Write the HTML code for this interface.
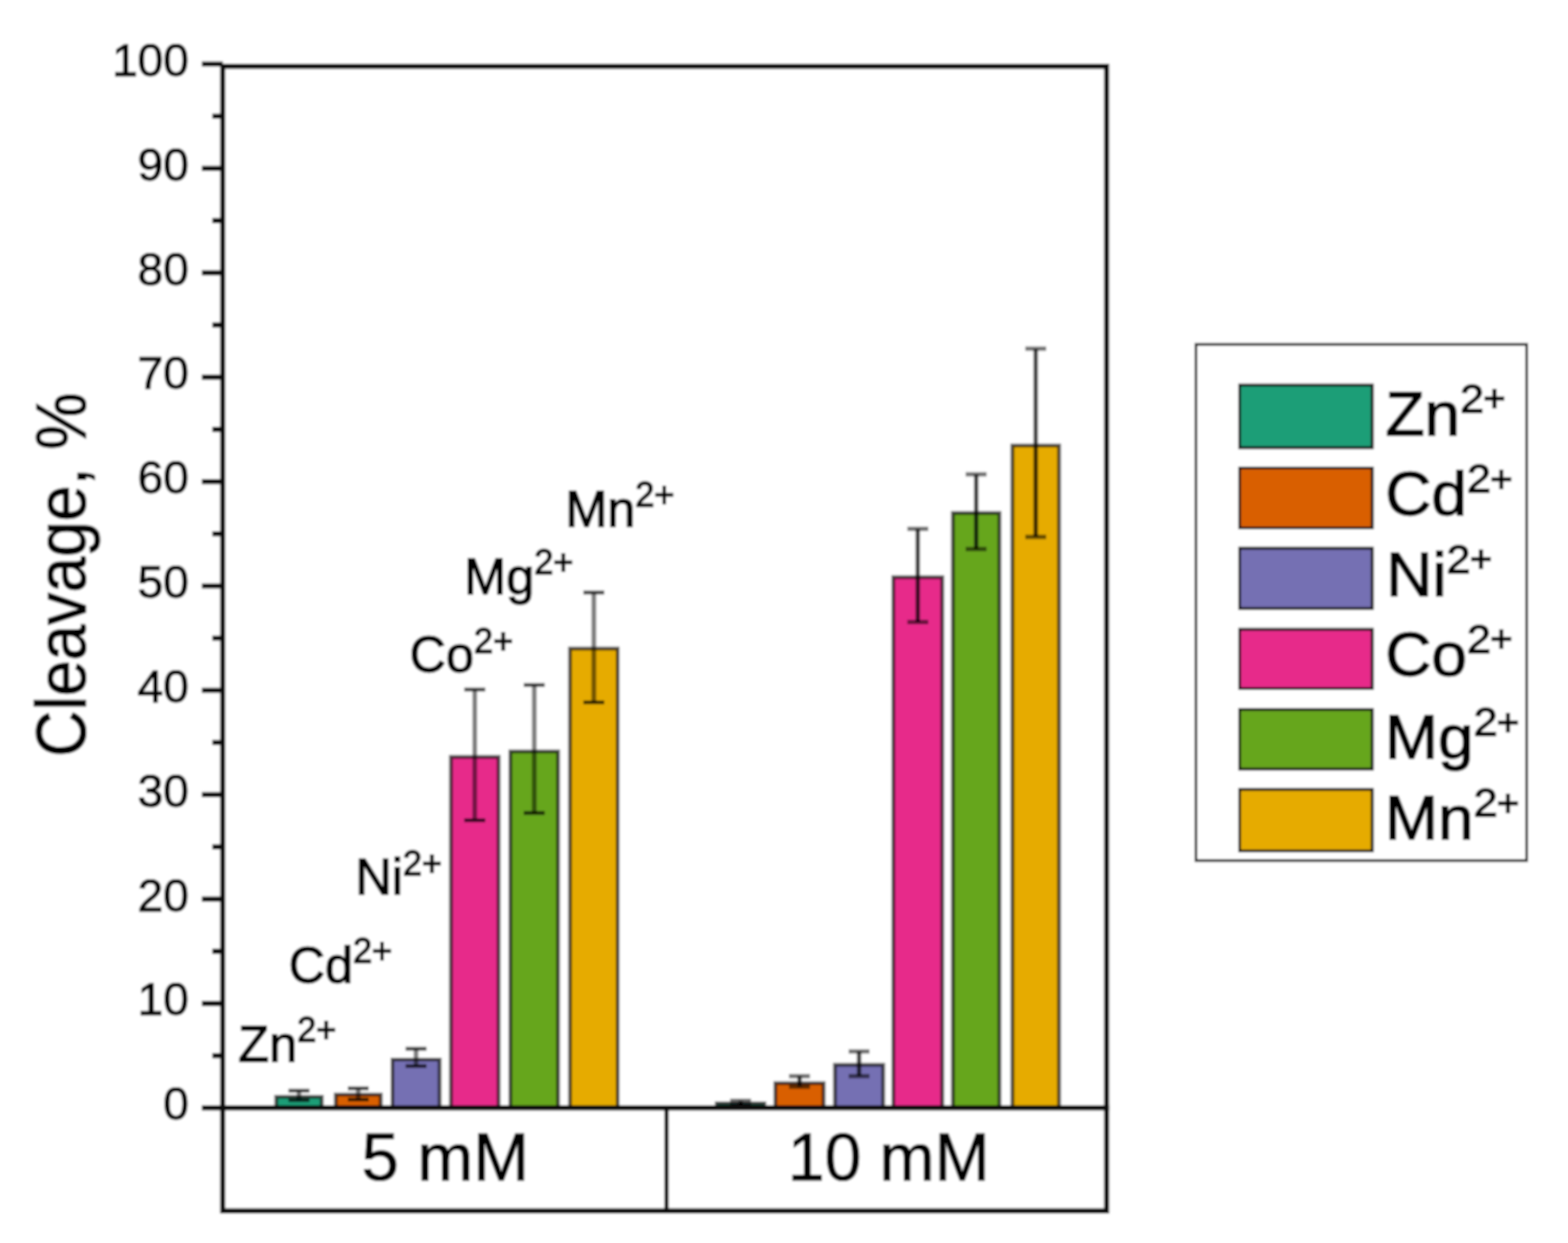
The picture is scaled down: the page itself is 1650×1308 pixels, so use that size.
<!DOCTYPE html><html><head><meta charset="utf-8"><title>Cleavage chart</title><style>html,body{margin:0;padding:0;background:#fff;width:1650px;height:1308px;overflow:hidden}svg{display:block}text{font-family:"Liberation Sans",Arial,Helvetica,sans-serif;fill:#000;stroke:#000;stroke-width:1.1px}text.ion{stroke-width:1.4px}</style></head><body>
<svg width="1650" height="1308" viewBox="0 0 1650 1308">
<defs><filter id="b" x="0" y="0" width="1650" height="1308" filterUnits="userSpaceOnUse"><feGaussianBlur stdDeviation="1.0"/></filter></defs>
<rect width="1650" height="1308" fill="#fff"/>
<g filter="url(#b)">
<rect width="1650" height="1308" fill="#fff"/>
<rect x="290.65" y="1154.20" width="47.9" height="11.60" fill="#1b9e77"/>
<rect x="290.65" y="1154.20" width="47.9" height="11.60" fill="none" stroke="#000" stroke-opacity="0.65" stroke-width="4.0"/>
<rect x="353.35" y="1151.80" width="47.3" height="14.00" fill="#d95f02"/>
<rect x="353.35" y="1151.80" width="47.3" height="14.00" fill="none" stroke="#000" stroke-opacity="0.65" stroke-width="4.0"/>
<rect x="413.00" y="1115.00" width="49.6" height="50.80" fill="#7570b3"/>
<rect x="413.00" y="1115.00" width="49.6" height="50.80" fill="none" stroke="#000" stroke-opacity="0.65" stroke-width="4.0"/>
<rect x="474.50" y="796.50" width="50.2" height="369.30" fill="#e7298a"/>
<rect x="474.50" y="796.50" width="50.2" height="369.30" fill="none" stroke="#000" stroke-opacity="0.65" stroke-width="4.0"/>
<rect x="537.10" y="790.70" width="50.2" height="375.10" fill="#66a61e"/>
<rect x="537.10" y="790.70" width="50.2" height="375.10" fill="none" stroke="#000" stroke-opacity="0.65" stroke-width="4.0"/>
<rect x="599.80" y="682.50" width="50.2" height="483.30" fill="#e6ab02"/>
<rect x="599.80" y="682.50" width="50.2" height="483.30" fill="none" stroke="#000" stroke-opacity="0.65" stroke-width="4.0"/>
<rect x="754.30" y="1161.00" width="50.0" height="4.80" fill="#1b9e77"/>
<rect x="754.30" y="1161.00" width="50.0" height="4.80" fill="none" stroke="#000" stroke-opacity="0.65" stroke-width="4.0"/>
<rect x="815.90" y="1139.80" width="50.8" height="26.00" fill="#d95f02"/>
<rect x="815.90" y="1139.80" width="50.8" height="26.00" fill="none" stroke="#000" stroke-opacity="0.65" stroke-width="4.0"/>
<rect x="878.60" y="1120.50" width="50.8" height="45.30" fill="#7570b3"/>
<rect x="878.60" y="1120.50" width="50.8" height="45.30" fill="none" stroke="#000" stroke-opacity="0.65" stroke-width="4.0"/>
<rect x="940.05" y="607.40" width="51.5" height="558.40" fill="#e7298a"/>
<rect x="940.05" y="607.40" width="51.5" height="558.40" fill="none" stroke="#000" stroke-opacity="0.65" stroke-width="4.0"/>
<rect x="1002.70" y="539.80" width="49.0" height="626.00" fill="#66a61e"/>
<rect x="1002.70" y="539.80" width="49.0" height="626.00" fill="none" stroke="#000" stroke-opacity="0.65" stroke-width="4.0"/>
<rect x="1065.35" y="468.80" width="49.1" height="697.00" fill="#e6ab02"/>
<rect x="1065.35" y="468.80" width="49.1" height="697.00" fill="none" stroke="#000" stroke-opacity="0.65" stroke-width="4.0"/>
<g stroke="#000" fill="none"><line x1="314.60" y1="1147.70" x2="314.60" y2="1157.70" stroke-width="5.0" stroke-opacity="0.5"/><line x1="303.60" y1="1147.70" x2="325.60" y2="1147.70" stroke-width="4.0" stroke-opacity="0.72"/><line x1="303.60" y1="1157.70" x2="325.60" y2="1157.70" stroke-width="4.0" stroke-opacity="0.72"/></g>
<g stroke="#000" fill="none"><line x1="377.00" y1="1145.30" x2="377.00" y2="1157.10" stroke-width="5.0" stroke-opacity="0.5"/><line x1="366.00" y1="1145.30" x2="388.00" y2="1145.30" stroke-width="4.0" stroke-opacity="0.72"/><line x1="366.00" y1="1157.10" x2="388.00" y2="1157.10" stroke-width="4.0" stroke-opacity="0.72"/></g>
<g stroke="#000" fill="none"><line x1="437.80" y1="1103.60" x2="437.80" y2="1121.80" stroke-width="5.0" stroke-opacity="0.5"/><line x1="426.80" y1="1103.60" x2="448.80" y2="1103.60" stroke-width="4.0" stroke-opacity="0.72"/><line x1="426.80" y1="1121.80" x2="448.80" y2="1121.80" stroke-width="4.0" stroke-opacity="0.72"/></g>
<g stroke="#000" fill="none"><line x1="499.60" y1="725.60" x2="499.60" y2="863.20" stroke-width="5.0" stroke-opacity="0.5"/><line x1="488.60" y1="725.60" x2="510.60" y2="725.60" stroke-width="4.0" stroke-opacity="0.72"/><line x1="488.60" y1="863.20" x2="510.60" y2="863.20" stroke-width="4.0" stroke-opacity="0.72"/></g>
<g stroke="#000" fill="none"><line x1="562.20" y1="720.80" x2="562.20" y2="855.50" stroke-width="5.0" stroke-opacity="0.5"/><line x1="551.20" y1="720.80" x2="573.20" y2="720.80" stroke-width="4.0" stroke-opacity="0.72"/><line x1="551.20" y1="855.50" x2="573.20" y2="855.50" stroke-width="4.0" stroke-opacity="0.72"/></g>
<g stroke="#000" fill="none"><line x1="624.90" y1="623.50" x2="624.90" y2="739.10" stroke-width="5.0" stroke-opacity="0.5"/><line x1="613.90" y1="623.50" x2="635.90" y2="623.50" stroke-width="4.0" stroke-opacity="0.72"/><line x1="613.90" y1="739.10" x2="635.90" y2="739.10" stroke-width="4.0" stroke-opacity="0.72"/></g>
<g stroke="#000" fill="none"><line x1="779.30" y1="1158.30" x2="779.30" y2="1163.00" stroke-width="4.6" stroke-opacity="0.75"/><line x1="768.30" y1="1158.30" x2="790.30" y2="1158.30" stroke-width="4.6" stroke-opacity="0.55"/><line x1="768.30" y1="1163.00" x2="790.30" y2="1163.00" stroke-width="4.6" stroke-opacity="0.55"/></g>
<g stroke="#000" fill="none"><line x1="841.30" y1="1132.40" x2="841.30" y2="1143.50" stroke-width="4.6" stroke-opacity="0.75"/><line x1="830.30" y1="1132.40" x2="852.30" y2="1132.40" stroke-width="4.6" stroke-opacity="0.55"/><line x1="830.30" y1="1143.50" x2="852.30" y2="1143.50" stroke-width="4.6" stroke-opacity="0.55"/></g>
<g stroke="#000" fill="none"><line x1="904.00" y1="1106.40" x2="904.00" y2="1132.40" stroke-width="4.6" stroke-opacity="0.75"/><line x1="893.00" y1="1106.40" x2="915.00" y2="1106.40" stroke-width="4.6" stroke-opacity="0.55"/><line x1="893.00" y1="1132.40" x2="915.00" y2="1132.40" stroke-width="4.6" stroke-opacity="0.55"/></g>
<g stroke="#000" fill="none"><line x1="965.80" y1="556.50" x2="965.80" y2="654.60" stroke-width="4.6" stroke-opacity="0.75"/><line x1="954.80" y1="556.50" x2="976.80" y2="556.50" stroke-width="4.6" stroke-opacity="0.55"/><line x1="954.80" y1="654.60" x2="976.80" y2="654.60" stroke-width="4.6" stroke-opacity="0.55"/></g>
<g stroke="#000" fill="none"><line x1="1027.20" y1="499.10" x2="1027.20" y2="577.80" stroke-width="4.6" stroke-opacity="0.75"/><line x1="1016.20" y1="499.10" x2="1038.20" y2="499.10" stroke-width="4.6" stroke-opacity="0.55"/><line x1="1016.20" y1="577.80" x2="1038.20" y2="577.80" stroke-width="4.6" stroke-opacity="0.55"/></g>
<g stroke="#000" fill="none"><line x1="1089.90" y1="366.90" x2="1089.90" y2="565.00" stroke-width="4.6" stroke-opacity="0.75"/><line x1="1078.90" y1="366.90" x2="1100.90" y2="366.90" stroke-width="4.6" stroke-opacity="0.55"/><line x1="1078.90" y1="565.00" x2="1100.90" y2="565.00" stroke-width="4.6" stroke-opacity="0.55"/></g>
<g stroke="#0d0d0d" fill="none" stroke-linecap="square">
<path d="M234.4 69.8 H1164.5 V1274.2 H234.4 Z" stroke-width="5.4"/>
<line x1="234.4" y1="1165.8" x2="1164.5" y2="1165.8" stroke-width="5.4"/>
<line x1="701.3" y1="1165.8" x2="701.3" y2="1274.2" stroke-width="4.4"/>
</g><g stroke="#0d0d0d" fill="none">
<line x1="212.5" y1="1165.80" x2="234.4" y2="1165.80" stroke-width="5.4"/>
<line x1="212.5" y1="1055.96" x2="234.4" y2="1055.96" stroke-width="5.4"/>
<line x1="212.5" y1="946.12" x2="234.4" y2="946.12" stroke-width="5.4"/>
<line x1="212.5" y1="836.28" x2="234.4" y2="836.28" stroke-width="5.4"/>
<line x1="212.5" y1="726.44" x2="234.4" y2="726.44" stroke-width="5.4"/>
<line x1="212.5" y1="616.60" x2="234.4" y2="616.60" stroke-width="5.4"/>
<line x1="212.5" y1="506.76" x2="234.4" y2="506.76" stroke-width="5.4"/>
<line x1="212.5" y1="396.92" x2="234.4" y2="396.92" stroke-width="5.4"/>
<line x1="212.5" y1="287.08" x2="234.4" y2="287.08" stroke-width="5.4"/>
<line x1="212.5" y1="177.24" x2="234.4" y2="177.24" stroke-width="5.4"/>
<line x1="212.5" y1="67.40" x2="234.4" y2="67.40" stroke-width="5.4"/>
<line x1="223.5" y1="1110.88" x2="234.4" y2="1110.88" stroke-width="5.4"/>
<line x1="223.5" y1="1001.04" x2="234.4" y2="1001.04" stroke-width="5.4"/>
<line x1="223.5" y1="891.20" x2="234.4" y2="891.20" stroke-width="5.4"/>
<line x1="223.5" y1="781.36" x2="234.4" y2="781.36" stroke-width="5.4"/>
<line x1="223.5" y1="671.52" x2="234.4" y2="671.52" stroke-width="5.4"/>
<line x1="223.5" y1="561.68" x2="234.4" y2="561.68" stroke-width="5.4"/>
<line x1="223.5" y1="451.84" x2="234.4" y2="451.84" stroke-width="5.4"/>
<line x1="223.5" y1="342.00" x2="234.4" y2="342.00" stroke-width="5.4"/>
<line x1="223.5" y1="232.16" x2="234.4" y2="232.16" stroke-width="5.4"/>
<line x1="223.5" y1="122.32" x2="234.4" y2="122.32" stroke-width="5.4"/>
</g>
<text x="198.8" y="1178.30" font-size="48.5" text-anchor="end">0</text>
<text x="198.8" y="1068.46" font-size="48.5" text-anchor="end">10</text>
<text x="198.8" y="958.62" font-size="48.5" text-anchor="end">20</text>
<text x="198.8" y="848.78" font-size="48.5" text-anchor="end">30</text>
<text x="198.8" y="738.94" font-size="48.5" text-anchor="end">40</text>
<text x="198.8" y="629.10" font-size="48.5" text-anchor="end">50</text>
<text x="198.8" y="519.26" font-size="48.5" text-anchor="end">60</text>
<text x="198.8" y="409.42" font-size="48.5" text-anchor="end">70</text>
<text x="198.8" y="299.58" font-size="48.5" text-anchor="end">80</text>
<text x="198.8" y="189.74" font-size="48.5" text-anchor="end">90</text>
<text x="198.8" y="79.90" font-size="48.5" text-anchor="end">100</text>
<text transform="translate(90.3,796.4) rotate(-90) scale(1,1.09)" font-size="67.6">Cleavage, %</text>
<text x="380.4" y="1241.5" font-size="70.5">5 mM</text>
<text x="829" y="1241.5" font-size="69.5">10 mM</text>
<text x="250.8" y="1116.7" font-size="53" class="ion">Zn<tspan font-size="36" dy="-20.5">2+</tspan></text>
<text x="303.7" y="1033.8" font-size="53" class="ion">Cd<tspan font-size="36" dy="-20.5">2+</tspan></text>
<text x="374.0" y="941.1" font-size="53" class="ion">Ni<tspan font-size="36" dy="-20.5">2+</tspan></text>
<text x="431.1" y="707.3" font-size="53" class="ion">Co<tspan font-size="36" dy="-20.5">2+</tspan></text>
<text x="488.5" y="624.5" font-size="53" class="ion">Mg<tspan font-size="36" dy="-20.5">2+</tspan></text>
<text x="594.9" y="553.6" font-size="53" class="ion">Mn<tspan font-size="36" dy="-20.5">2+</tspan></text>
<rect x="1258.5" y="362.4" width="348.0" height="543.2" fill="none" stroke="#262626" stroke-width="3"/>
<rect x="1304.5" y="405.2" width="139.5" height="65.9" fill="#1b9e77" stroke="#141414" stroke-width="3.0"/>
<rect x="1304.5" y="492.5" width="139.5" height="63.0" fill="#d95f02" stroke="#141414" stroke-width="3.0"/>
<rect x="1304.5" y="576.9" width="139.5" height="63.4" fill="#7570b3" stroke="#141414" stroke-width="3.0"/>
<rect x="1304.5" y="662.2" width="139.5" height="62.3" fill="#e7298a" stroke="#141414" stroke-width="3.0"/>
<rect x="1304.5" y="746.6" width="139.5" height="62.7" fill="#66a61e" stroke="#141414" stroke-width="3.0"/>
<rect x="1304.5" y="830.7" width="139.5" height="64.7" fill="#e6ab02" stroke="#141414" stroke-width="3.0"/>
<text transform="translate(1458.0,457.8) scale(1.05,1)" font-size="64" class="ion">Zn<tspan font-size="43" dy="-24">2</tspan><tspan font-size="38" dy="-1.5" dx="-0.5">+</tspan></text>
<text transform="translate(1457.8,542.2) scale(1.05,1)" font-size="64" class="ion">Cd<tspan font-size="43" dy="-24">2</tspan><tspan font-size="38" dy="-1.5" dx="-0.5">+</tspan></text>
<text transform="translate(1458.7,626.8) scale(1.05,1)" font-size="64" class="ion">Ni<tspan font-size="43" dy="-24">2</tspan><tspan font-size="38" dy="-1.5" dx="-0.5">+</tspan></text>
<text transform="translate(1457.8,710.5) scale(1.05,1)" font-size="64" class="ion">Co<tspan font-size="43" dy="-24">2</tspan><tspan font-size="38" dy="-1.5" dx="-0.5">+</tspan></text>
<text transform="translate(1457.3,798.2) scale(1.05,1)" font-size="64" class="ion">Mg<tspan font-size="43" dy="-24">2</tspan><tspan font-size="38" dy="-1.5" dx="-0.5">+</tspan></text>
<text transform="translate(1457.3,883.3) scale(1.05,1)" font-size="64" class="ion">Mn<tspan font-size="43" dy="-24">2</tspan><tspan font-size="38" dy="-1.5" dx="-0.5">+</tspan></text>
</g></svg></body></html>
